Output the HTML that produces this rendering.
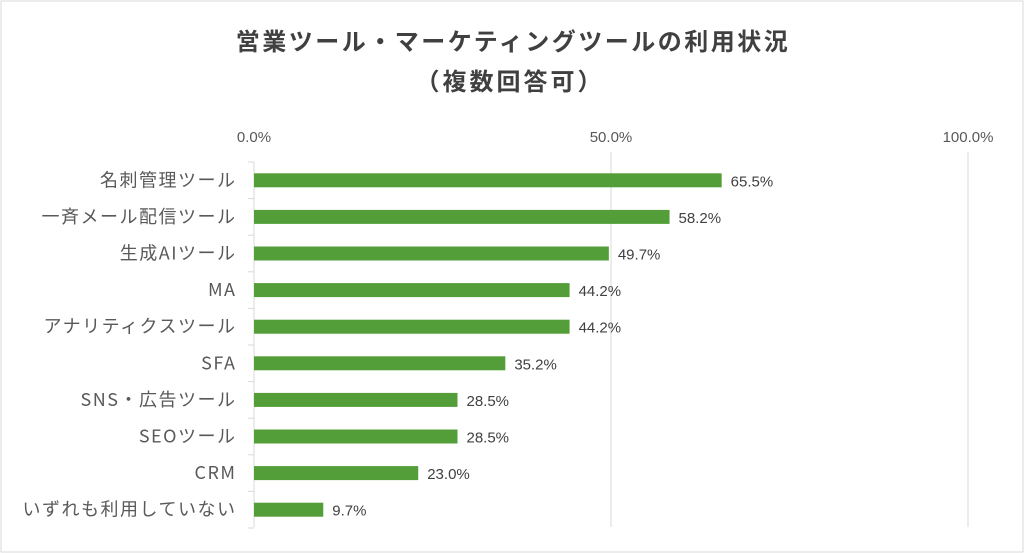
<!DOCTYPE html>
<html><head><meta charset="utf-8">
<style>
html,body{margin:0;padding:0;background:#fff;}
#wrap{position:relative;width:1024px;height:553px;overflow:hidden;}
svg text{font-family:"Noto Sans CJK JP","Liberation Sans",sans-serif;}
svg text.num{font-family:"Liberation Sans","Noto Sans CJK JP",sans-serif;}
</style></head>
<body>
<div id="wrap">
<svg id="chart" width="1024" height="553" xmlns="http://www.w3.org/2000/svg">
<rect x="1" y="1" width="1022" height="551" fill="#fff" stroke="#d9d9d9" stroke-width="1"/>
<text x="513" y="50" text-anchor="middle" font-size="24" font-weight="bold" letter-spacing="2.5" fill="#404040">営業ツール・マーケティングツールの利用状況</text>
<text x="510" y="90" text-anchor="middle" font-size="24" font-weight="bold" letter-spacing="3" fill="#404040">（複数回答可）</text>
<g id="grid"></g>
<g id="bars"></g>
</svg>
</div>
<script>
const categories = ["名刺管理ツール","一斉メール配信ツール","生成AIツール","MA","アナリティクスツール","SFA","SNS・広告ツール","SEOツール","CRM","いずれも利用していない"];
const values = [65.5,58.2,49.7,44.2,44.2,35.2,28.5,28.5,23.0,9.7];
const ticks = [0,50,100];
const tickLabels = ["0.0%","50.0%","100.0%"];

const NS="http://www.w3.org/2000/svg";
const x0=254, x1=968, yTop=162, rowH=36.6, barH=14;
const xScale=v=>x0+(x1-x0)*v/100;
const yScale=i=>yTop+rowH*i+rowH/2;
function mk(tag,attrs,parent){const e=document.createElementNS(NS,tag);for(const k in attrs)e.setAttribute(k,attrs[k]);parent.appendChild(e);return e;}
const grid=document.getElementById('grid'), bars=document.getElementById('bars');
ticks.forEach((t,i)=>{
  const l=mk('line',{x1:xScale(t),x2:xScale(t),y1:t===0?yTop:152,y2:527,stroke:'#d9d9d9','stroke-width':1},grid);
  
  
  const tx=mk('text',{x:xScale(t),y:142,'text-anchor':'middle','font-size':15,fill:'#595959','class':'num'},grid);
  tx.textContent=tickLabels[i];
  
  
});
for(let i=0;i<=categories.length;i++){
  const yy=yTop+rowH*i;
  const tk=mk('line',{x1:x0-6,x2:x0,y1:yy,y2:yy,stroke:'#d9d9d9','stroke-width':1},grid);
  
  
}
categories.forEach((c,i)=>{
  const y=yScale(i);
  const r=mk('rect',{x:x0,y:y-barH/2,width:xScale(values[i])-x0,height:barH,fill:'#549e39'},bars);
  
  
  const lab=mk('text',{x:236.5,y:y+6,'text-anchor':'end','font-size':18,'letter-spacing':1.5,fill:'#595959'},bars);
  lab.textContent=c;
  
  
  const v=mk('text',{x:xScale(values[i])+9,y:y+6,'font-size':15,fill:'#404040','class':'num'},bars);
  v.textContent=values[i].toFixed(1)+'%';
  
  
});
</script>
</body></html>
